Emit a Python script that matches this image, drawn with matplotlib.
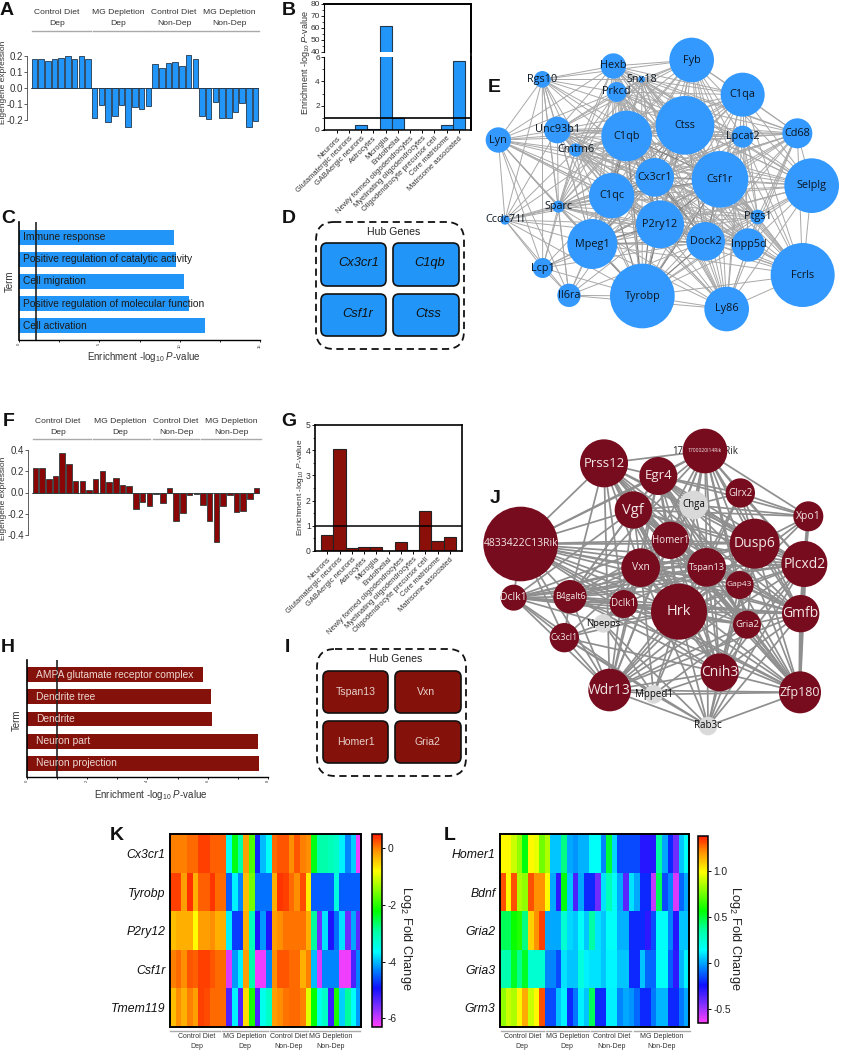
import itertools
import numpy as np
import matplotlib
matplotlib.use("Agg")
import matplotlib.pyplot as plt
from matplotlib.colors import LinearSegmentedColormap
from matplotlib.patches import Circle, FancyBboxPatch

plt.rcParams['font.family'] = ['Liberation Sans', 'DejaVu Sans']
plt.rcParams['mathtext.fontset'] = 'custom'
plt.rcParams['mathtext.rm'] = 'Liberation Sans'
plt.rcParams['mathtext.it'] = 'Liberation Sans:italic'
plt.rcParams['mathtext.bf'] = 'Liberation Sans:bold'
plt.rcParams['axes.linewidth'] = 0.8

W, H = 841, 1050
BLUE = '#2196f8'
RED = '#8a0f08'
TXT = '#333333'
ENRICH = r'Enrichment -log$_{10}$ $P$-value'

# eigengene bars
a_vals = [.18, .178, .168, .178, .19, .203, .18, .203, .18,
          -.19, -.11, -.215, -.175, -.11, -.25, -.12, -.135, -.115,
          .15, .125, .153, .16, .14, .205, .183,
          -.18, -.195, -.09, -.19, -.19, -.155, -.095, -.245, -.21]
f_vals = [.235, .23, .13, .16, .37, .265, .11, .105, .02,
          .13, .2, .095, .135, .07, .06, -.155, -.09, -.13,
          -.01, -.1, .04, -.265, -.19, -.025, -.01,
          -.12, -.27, -.465, -.125, -.025, -.185, -.175, -.065, .045]

# cell type enrichment
cell_types = ['Neurons', 'Glutamatergic neurons', 'GABAergic neurons', 'Astrocytes', 'Microglia',
              'Endothelial', 'Newly formed oligodendrocytes', 'Myelinating oligodendrocytes',
              'Oligodendrocyte precursor cell', 'Core matrisome', 'Matrisome associated']
b_vals = [0, 0, .4, .05, 62, .95, 0, 0, 0, .4, 5.7]
g_vals = [.62, 4.05, .1, .17, .16, 0, .35, .05, 1.6, .4, .57]

# GO terms
c_terms = ['Immune response', 'Positive regulation of catalytic activity', 'Cell migration',
           'Positive regulation of molecular function', 'Cell activation']
c_vals = [9.65, 9.8, 10.3, 10.55, 11.6]
h_terms = ['AMPA glutamate receptor complex', 'Dendrite tree', 'Dendrite', 'Neuron part', 'Neuron projection']
h_vals = [5.83, 6.12, 6.13, 7.67, 7.7]

d_hubs = ['Cx3cr1', 'C1qb', 'Csf1r', 'Ctss']
i_hubs = ['Tspan13', 'Vxn', 'Homer1', 'Gria2']

# network E, layout in crop units
e_genes = ['Fyb', 'C1qa', 'Ctss', 'Hexb', 'Snx18', 'Prkcd', 'Rgs10', 'Lyn', 'Unc93b1', 'Cmtm6', 'C1qb',
           'Lpcat2', 'Cd68', 'Cx3cr1', 'Csf1r', 'Selplg', 'C1qc', 'Sparc', 'Ccdc71l', 'P2ry12', 'Ptgs1',
           'Mpeg1', 'Dock2', 'Inpp5d', 'Lcp1', 'Il6ra', 'Tyrobp', 'Ly86', 'Fcrls']
e_x = [665, 818, 645, 430, 515, 440, 217, 85, 262, 317, 470, 818, 982, 554, 750, 1025, 425, 265, 105, 570,
       863, 367, 707, 835, 218, 297, 517, 770, 998]
e_y = [180, 284, 376, 198, 238, 276, 238, 420, 390, 450, 408, 410, 400, 532, 538, 557, 587, 620, 660, 673,
       651, 732, 724, 735, 804, 886, 888, 927, 825]
e_r = [67, 66, 88, 38, 10, 30, 25, 38, 40, 20, 76, 33, 45, 58, 85, 82, 68, 18, 14, 72, 22, 75, 58, 50, 30,
       35, 97, 67, 96]
e_outer = {
    'Rgs10': ['Lyn', 'Hexb', 'Prkcd', 'Snx18', 'Unc93b1', 'C1qb', 'Ctss', 'Cx3cr1', 'Csf1r', 'Sparc', 'Ccdc71l',
              'Lcp1', 'Cmtm6', 'C1qc', 'Mpeg1', 'Fyb', 'Il6ra'],
    'Lyn': ['Unc93b1', 'Hexb', 'Prkcd', 'Ccdc71l', 'Sparc', 'C1qb', 'C1qc', 'Cmtm6', 'Cx3cr1', 'Csf1r', 'Lcp1',
            'Il6ra', 'P2ry12', 'Mpeg1', 'Tyrobp', 'Dock2', 'Ctss', 'Inpp5d'],
    'Ccdc71l': ['Unc93b1', 'Cmtm6', 'Sparc', 'C1qc', 'C1qb', 'Cx3cr1', 'P2ry12', 'Mpeg1', 'Lcp1', 'Il6ra', 'Csf1r',
                'Tyrobp', 'Dock2'],
    'Lcp1': ['Il6ra', 'Mpeg1', 'Tyrobp', 'P2ry12', 'C1qc', 'Sparc', 'Cmtm6', 'Dock2', 'Csf1r'],
    'Il6ra': ['Mpeg1', 'Tyrobp', 'Sparc', 'C1qc', 'P2ry12', 'Ly86', 'Dock2', 'Cx3cr1'],
}
e_central = ['C1qb', 'Ctss', 'Csf1r', 'Cx3cr1', 'P2ry12', 'C1qc', 'Dock2', 'Tyrobp', 'Mpeg1']

# network J
j_genes = ['Prss12', 'Egr4', '1700020I14Rik', 'Glrx2', 'Chga', 'Vgf', 'Xpo1', '4833422C13Rik', 'Homer1', 'Dusp6',
           'Plcxd2', 'Vxn', 'Tspan13', 'Gap43', 'Dclk1', 'B4galt6', 'Dclk1_2', 'Hrk', 'Gmfb', 'Gria2', 'Npepps',
           'Cx3cl1', 'Cnih3', 'Wdr13', 'Mpped1', 'Zfp180', 'Rab3c']
j_x = [402, 565, 705, 811, 671, 490, 1015, 152, 601, 854, 1003, 512, 710, 809, 131, 300, 461, 627, 992, 831, 400,
       283, 749, 419, 551, 990, 714]
j_y = [190, 228, 153, 279, 315, 330, 349, 432, 421, 431, 492, 503, 502, 555, 593, 590, 612, 635, 641, 674, 670,
       713, 817, 870, 883, 877, 978]
j_r = [72, 57, 67, 44, 43, 56, 45, 112, 56, 75, 69, 58, 58, 42, 39, 50, 42, 84, 56, 42, 28, 44, 57, 64, 28, 63, 28]
j_fs = [9.5, 9.5, 3.6, 7, 7, 10.5, 7.5, 7.5, 7, 10, 10, 7.5, 6.6, 6, 7.5, 6.3, 7, 10.5, 10, 6.8, 6.8, 6.5, 10, 10,
        7, 9, 7]
j_grey = ['Chga', 'Npepps', 'Mpped1', 'Rab3c']
j_core = ['4833422C13Rik', 'Prss12', 'Egr4', '1700020I14Rik', 'Vgf', 'Homer1', 'Dusp6', 'Plcxd2', 'Vxn', 'Tspan13',
          'Hrk', 'Gmfb', 'Cnih3', 'Wdr13', 'Zfp180', 'Gria2', 'B4galt6', 'Gap43']
j_outer = {
    'Dclk1': ['4833422C13Rik', 'B4galt6', 'Cx3cl1', 'Npepps', 'Hrk', 'Vxn', 'Homer1', 'Wdr13', 'Dclk1_2', 'Gria2',
              'Gmfb', 'Dusp6', 'Plcxd2', 'Tspan13', 'Mpped1', 'Vgf'],
    'Cx3cl1': ['B4galt6', 'Npepps', 'Wdr13', 'Mpped1', 'Hrk', 'Rab3c', 'Vxn', 'Cnih3', '4833422C13Rik'],
    'Npepps': ['Dclk1_2', 'Hrk', 'Mpped1', 'Rab3c', 'Vxn', 'Homer1'],
    'Mpped1': ['Wdr13', 'Rab3c', 'Zfp180', 'Hrk', 'Cnih3', 'Vxn', 'Gria2', 'Tspan13'],
    'Rab3c': ['Zfp180', 'Wdr13', 'Cnih3', 'Hrk', 'Gmfb', 'Gria2', 'Plcxd2', 'Tspan13', 'Dusp6', 'Vxn'],
    'Chga': ['Egr4', 'Vgf', 'Glrx2', 'Dusp6', 'Tspan13', 'Homer1', '1700020I14Rik', 'Plcxd2', 'Xpo1'],
    'Glrx2': ['1700020I14Rik', 'Xpo1', 'Dusp6', 'Plcxd2', 'Egr4', 'Gmfb', 'Hrk', 'Tspan13'],
    'Xpo1': ['1700020I14Rik', 'Plcxd2', 'Dusp6', 'Gmfb', 'Hrk', 'Gap43', 'Vgf', 'Egr4', 'Zfp180'],
    'Dclk1_2': ['B4galt6', 'Hrk', 'Homer1', 'Vxn', '4833422C13Rik', 'Prss12', 'Tspan13', 'Gmfb', 'Zfp180'],
}
j_thick = [('Gmfb', 'Zfp180'), ('Plcxd2', 'Gmfb'), ('Xpo1', 'Plcxd2')]

# heatmaps
k_genes = ['Cx3cr1', 'Tyrobp', 'P2ry12', 'Csf1r', 'Tmem119']
k_cx3cr1 = [0, 0, 0, .1, .1, .3, .3, .15, .15, .15,
            -3.6, -2.3, -3, -.2, -1.8, -4.8, -4, -3.6,
            .1, .2, .2, -.1, .2, 0, -.1,
            -2.3, -3, -3, -3.1, -3.2, -3.7, -4.3, -3.9, -6.2]
k_tyrobp = [.3, .3, -.2, .4, -.3, .15, .15, .35, .1, .1,
            -4.5, -3.7, -4.3, -.4, -1.6, -4.4, -4.4, -4.4,
            -.3, .35, .3, .1, -.1, .25, -.7,
            -4.5, -4.5, -4.5, -4.5, -3.4, -4.5, -4.5, -4.5, -4.5]
k_p2ry12 = [-.4, -.3, -.3, -.3, -.8, -.2, -.2, -.1, -.3, -.3,
            -3.7, -4.7, -4.7, -.3, -3.1, -5, -4.2, -5,
            -.2, -.1, .05, .05, .05, .05, -.3,
            -2.9, -5.5, -3.8, -5, -4.4, -3.8, -5.5, -4.1, -5.4]
k_csf1r = [0, .1, -.1, .2, .15, .3, .3, .2, .1, .1,
           -6.1, -4.2, -3.7, -.2, -3, -6.2, -6.2, -4.3,
           -.1, .2, .2, .1, .1, -.3, 0,
           -4, -6.1, -4.3, -4.3, -4.3, -6.2, -6.2, -5.3, -4.3]
k_tmem119 = [-.4, -.1, -.3, 0, -.2, .3, .25, .1, .1, .1,
             -5.3, -3.7, -5.3, -.6, -2.1, -5.3, -3.5, -3.2,
             -.2, -.1, .05, .1, .1, 0, -1,
             -2.2, -3.5, -3.2, -5.2, -2.1, -3.9, -2.9, -3.6, -4.2]
l_genes = ['Homer1', 'Bdnf', 'Gria2', 'Gria3', 'Grm3']
l_homer1 = [1, 1, .9, .8, .55, 1, .95, .75, .85,
            .05, .05, .4, 0, -.03, .02, .02,
            .15, .15, -.05, .5, .08, -.15, -.15, -.15, -.15,
            -.28, -.28, -.28, .35, 0, -.2, -.42, .05, .15]
l_bdnf = [1.3, 1, 1.3, .85, .8, 1.3, 1.2, 1.2, 1,
          0, -.3, .55, .05, -.35, 0, -.2,
          -.2, -.42, .1, .3, .15, 0, -.38, .1, 0,
          -.2, -.2, -.55, .45, -.15, -.05, -.58, -.1, 0]
l_gria2 = [.45, .45, .58, .62, .4, 1.08, 1.2, 1.32, 0,
           0, 0, .25, .08, .05, .15, .05,
           .35, .1, .05, .15, .15, .02, .02, -.2, -.2,
           -.2, -.3, -.15, .15, .15, -.05, -.28, .05, .05]
l_gria3 = [.33, .33, .52, .38, .52, .25, .25, .25, -.05,
           -.05, -.15, .1, .05, .05, .22, .12,
           .1, .1, .05, .13, .13, .05, .05, -.2, -.2,
           .05, -.1, -.1, .15, .15, -.12, -.3, .03, .12]
l_grm3 = [.8, .9, .85, 1, 1.15, .9, 1, 1.3, -.15,
          -.15, .05, .12, -.2, -.08, .12, .05,
          .45, -.2, -.2, .12, .12, -.05, 0, -.03, -.1,
          -.2, -.2, -.08, .03, .03, -.2, -.2, -.08, 0]

rainbow = LinearSegmentedColormap.from_list('prism_rainbow', [
    (0, '#ff40ff'), (.1, '#8030ff'), (.2, '#1010ff'), (.29, '#0080ff'), (.39, '#00ffff'), (.5, '#00ffa0'),
    (.6, '#00ff00'), (.73, '#a0ff00'), (.81, '#ffff00'), (.92, '#ff8c00'), (1, '#ff2000')])

fig = plt.figure(figsize=(W / 100, H / 100), dpi=100)


def ax_px(x0, y0, x1, y1, **kw):
    return fig.add_axes([x0 / W, 1 - y1 / H, (x1 - x0) / W, (y1 - y0) / H], **kw)


over = ax_px(0, 0, W, H, zorder=20)
over.set_xlim(0, W)
over.set_ylim(H, 0)
over.axis('off')
over.patch.set_alpha(0)


def group_header(centers, y_text, y_line, segments, size, gap):
    names = ['Control Diet\nDep', 'MG Depletion\nDep', 'Control Diet\nNon-Dep', 'MG Depletion\nNon-Dep']
    for name, cx, seg in zip(names, centers, segments):
        line1, line2 = name.split('\n')
        over.text(cx, y_text, line1, ha='center', va='center', fontsize=size, color=TXT)
        over.text(cx, y_text + gap, line2, ha='center', va='center', fontsize=size, color=TXT)
        over.plot(seg, [y_line, y_line], color='#aaaaaa', lw=1)


def eigen_panel(vals, box, ylim, ticks, color, edge, ylab_y):
    ax = ax_px(*box)
    step = (box[2] - box[0] - 4) / len(vals)
    ax.set_xlim(-.5 - 4 / step, len(vals) - .5)
    ax.set_ylim(*ylim)
    ax.bar(range(len(vals)), vals, width=.82, color=color, edgecolor=edge, lw=.6, clip_on=False)
    ax.axhline(0, color=edge, lw=.6, xmin=4 / (box[2] - box[0]))
    for s in ['top', 'right', 'bottom']:
        ax.spines[s].set_visible(False)
    ax.spines['left'].set_linewidth(.6)
    ax.spines['left'].set_color('#444444')
    ax.patch.set_alpha(0)
    ax.set_xticks([])
    ax.set_yticks(ticks)
    ax.set_yticklabels([f'{t:.1f}' for t in ticks])
    ax.tick_params(axis='y', labelsize=7, length=2, width=.6, pad=1, labelcolor=TXT, color='#444444')
    over.text(3.5, ylab_y, 'Eigengene expression', rotation=90, ha='center', va='center', fontsize=6, color=TXT)
    return ax


eigen_panel(a_vals, (27, 56, 259, 119.5), (-.2, .2), [.2, .1, 0, -.1, -.2], BLUE, '#22384e', 82)
group_header([57, 118, 174, 229], 13, 30.7, [(32, 91), (93, 150), (151, 198), (199, 259)], 6.1, 10.3)
eigen_panel(f_vals, (28, 450, 260, 535), (-.4, .4), [.4, .2, 0, -.2, -.4], '#8a0505', '#2f3c3c', 498)
group_header([58, 120, 176, 231], 421.7, 439, [(33, 91), (93, 150), (153, 199), (201, 261)], 6.1, 10.3)


def celltype_ticks(ax):
    ax.set_xticks(range(len(cell_types)))
    ax.set_xticklabels(cell_types, rotation=45, ha='right', rotation_mode='anchor', fontsize=5.4, color=TXT)
    ax.tick_params(axis='x', length=2, width=.7, pad=1.5)


# B, broken axis
b_bot = ax_px(324, 57, 471, 130)
b_top = ax_px(324, 4, 471, 52)
for ax in (b_bot, b_top):
    ax.bar(range(len(b_vals)), b_vals, width=1, color=BLUE, edgecolor='#22384e', lw=.8)
    ax.set_xlim(-1.05, 11)
    ax.spines['right'].set_linewidth(1.3)
    ax.spines['left'].set_linewidth(.8)
b_bot.set_ylim(0, 6)
b_top.set_ylim(40, 80)
b_bot.spines['top'].set_visible(False)
b_top.spines['bottom'].set_visible(False)
b_top.spines['top'].set_linewidth(1.4)
b_bot.spines['bottom'].set_linewidth(1.1)
b_top.set_xticks([])
b_bot.axhline(1, color='black', lw=1.2, zorder=5)
celltype_ticks(b_bot)
b_bot.set_yticks([0, 2, 4, 6])
b_bot.set_yticks([1, 3, 5], minor=True)
b_top.set_yticks([40, 50, 60, 70, 80])
b_top.set_yticks([45, 55, 65, 75], minor=True)
for ax in (b_bot, b_top):
    ax.tick_params(axis='y', labelsize=6, length=2, width=.6, pad=1, labelcolor=TXT)
    ax.tick_params(axis='y', which='minor', length=1.2, width=.5)
over.plot([471, 471], [4, 130], color='black', lw=1.3)
over.text(306, 62, ENRICH, rotation=90, ha='center', va='center', fontsize=6.5, color=TXT)

# G
g_ax = ax_px(315, 425, 462, 551)
g_ax.bar(range(len(g_vals)), g_vals, width=1, color=RED, edgecolor='#222222', lw=.8)
g_ax.set_xlim(-1, 11)
g_ax.set_ylim(0, 5)
g_ax.axhline(1, color='black', lw=1.1, zorder=5)
celltype_ticks(g_ax)
g_ax.set_yticks(range(6))
g_ax.set_yticks(np.arange(.5, 5, 1), minor=True)
g_ax.tick_params(axis='y', labelsize=6.2, length=2, width=.6, pad=1, labelcolor=TXT)
g_ax.tick_params(axis='y', which='minor', length=1.2, width=.5)
for s in g_ax.spines.values():
    s.set_linewidth(1.2)
over.text(300.7, 487, ENRICH, rotation=90, ha='center', va='center', fontsize=6, color=TXT)


def term_panel(box, terms, vals, xmax, color, txt_color, major, minor, tick_labels, ylim, xline, x_txt):
    ax = ax_px(*box)
    y = range(len(terms))
    ax.barh(y, vals, height=.67, color=color, zorder=2)
    ax.set_xlim(0, xmax)
    ax.set_ylim(*ylim)
    ax.axvline(xline, color='#222222', lw=1.2, zorder=3)
    for s in ['top', 'right']:
        ax.spines[s].set_visible(False)
    ax.spines['left'].set_linewidth(1.2)
    ax.spines['bottom'].set_linewidth(1)
    ax.set_yticks([])
    ax.set_xticks(major)
    ax.set_xticklabels(tick_labels, rotation=90, fontsize=3, color=TXT)
    ax.set_xticks(minor, minor=True)
    ax.tick_params(axis='x', which='both', length=1.5, width=.6, pad=.8)
    for i, term in zip(y, terms):
        ax.text(x_txt, i, term, va='center', ha='left', fontsize=7.35, color=txt_color, zorder=4)
    return ax


term_panel((19, 222, 260, 340), c_terms, c_vals, 15, BLUE, '#1c1c1c', [0, 5, 10, 15], [2.5, 7.5, 12.5],
           ['0', '5', '10', '15'], (4.65, -.695), 1.04, .27)
over.text(9.5, 281, 'Term', rotation=90, ha='center', va='center', fontsize=7, color=TXT)
over.text(144, 357, ENRICH, ha='center', va='center', fontsize=7, color=TXT)
term_panel((26.7, 660, 268, 777), h_terms, h_vals, 8, '#85120a', '#ecd6d2', [0, 2, 4, 6, 8], [1, 3, 5, 7],
           ['0', '2', '4', '6', '8'], (4.62, -.66), 1, .3)
over.text(17, 720, 'Term', rotation=90, ha='center', va='center', fontsize=7, color=TXT)
over.text(151, 795, ENRICH, ha='center', va='center', fontsize=7, color=TXT)


def hub_panel(outer, xs, ys, box_color, names, txt_xy, title_xy, **txt_kw):
    x0, y0, x1, y1 = outer
    over.add_patch(FancyBboxPatch((x0, y0), x1 - x0, y1 - y0, boxstyle='round,pad=0,rounding_size=18', fill=False,
                                  ec='#111111', lw=1.3, ls=(0, (4, 2.5))))
    over.text(*title_xy, 'Hub Genes', ha='center', va='center', fontsize=7.6, color='#222222')
    boxes = [(xs[0], ys[0]), (xs[1], ys[0]), (xs[0], ys[1]), (xs[1], ys[1])]
    for (bx, by), name, (tx, ty) in zip(boxes, names, txt_xy):
        over.add_patch(FancyBboxPatch((bx[0], by[0]), bx[1] - bx[0], by[1] - by[0],
                                      boxstyle='round,pad=0,rounding_size=6', fc=box_color, ec='#111111', lw=1.2))
        over.text(tx, ty, name, ha='center', va='center', **txt_kw)


hub_panel((316, 222, 464, 349), [(321, 386), (393, 459)], [(243, 286), (294, 336)], BLUE, d_hubs,
          [(359, 263), (430, 263), (358, 314), (428, 314)], (394, 232), fontsize=9.3, style='italic', color='#111111')
hub_panel((317, 649, 466, 776), [(323, 388), (395, 461)], [(671, 713), (721, 763)], '#85120a', i_hubs,
          [(356, 692), (426, 692), (356, 742), (427, 742)], (396, 659), fontsize=7.6, color='#e6d0cc')


def network_axes(box, xmax, ymax):
    ax = ax_px(*box)
    ax.set_xlim(0, xmax)
    ax.set_ylim(ymax, 0)
    ax.axis('off')
    ax.patch.set_alpha(0)
    return ax


# E network
net_e = network_axes((470, 0, 841, 380), 1113, 1140)
e_pos = {g: (x, y) for g, x, y in zip(e_genes, e_x, e_y)}
e_core = [g for g in e_genes if g not in e_outer]
e_edges = list(itertools.combinations(e_core, 2))
for g, others in e_outer.items():
    e_edges += [(g, o) for o in others]
for g1, g2 in e_edges:
    dark = g1 in e_central and g2 in e_central
    net_e.plot(*zip(e_pos[g1], e_pos[g2]), color='#858585' if dark else '#a8a8a8', lw=.9 if dark else .7, zorder=1)
for g, x, y, r in zip(e_genes, e_x, e_y, e_r):
    net_e.add_patch(Circle((x, y), r, fc='#3399ff', ec='none', zorder=2))
    net_e.text(x, y, g, ha='center', va='center', fontsize=7.8, family='Open Sans', color='#0a1520', zorder=3)

# J network
net_j = network_axes((470, 400, 841, 770), 1113, 1110)
j_pos = {g: (x, y) for g, x, y in zip(j_genes, j_x, j_y)}
j_edges = list(itertools.combinations(j_core, 2))
for g, others in j_outer.items():
    j_edges += [(g, o) for o in others]
for g1, g2 in j_edges:
    net_j.plot(*zip(j_pos[g1], j_pos[g2]), color='#8f8f8f', lw=1.25, zorder=1)
for g1, g2 in j_thick:
    net_j.plot(*zip(j_pos[g1], j_pos[g2]), color='#8f8f8f', lw=2.4, zorder=1)
rik = j_genes.index('1700020I14Rik')
net_j.text(j_x[rik], j_y[rik] + 3, j_genes[rik], ha='center', va='center', fontsize=6.9, family='Open Sans',
           color='#222222', zorder=1.5)
for g, x, y, r, fs in zip(j_genes, j_x, j_y, j_r, j_fs):
    grey = g in j_grey
    net_j.add_patch(Circle((x, y), r, fc='#d9d9d9' if grey else '#760c1e', ec='none', zorder=2))
    net_j.text(x, y, g.split('_')[0], ha='center', va='center', fontsize=fs, family='Open Sans',
               color='#0a0a0a' if grey else '#f4e6e6', zorder=3)


def heat_panel(box, cbox, rows, genes, vmin, vmax, ticks, tick_labels, lab_x, centers, segments):
    ax = ax_px(*box)
    im = ax.imshow(np.array(rows), aspect='auto', cmap=rainbow, vmin=vmin, vmax=vmax, interpolation='nearest')
    ax.set_xticks([])
    ax.set_yticks(range(len(genes)))
    ax.set_yticklabels(genes, fontsize=8.8, style='italic', color='#111111')
    ax.tick_params(axis='y', length=0, pad=3)
    for s in ax.spines.values():
        s.set_linewidth(1.4)
    cax = ax_px(*cbox)
    cb = fig.colorbar(im, cax=cax)
    cb.set_ticks(ticks)
    cb.set_ticklabels(tick_labels)
    cb.ax.tick_params(labelsize=7.4, length=2, width=.7, pad=2, labelcolor='#222222')
    cb.outline.set_linewidth(1.1)
    over.text(lab_x, 938, r'Log$_2$ Fold Change', rotation=270, ha='center', va='center', fontsize=9.2, color='#222222')
    group_header(centers, 1037, 1030.7, segments, 5, 9)


heat_panel((169.7, 834.3, 361, 1027), (372, 834, 381.7, 1026.7),
           [k_cx3cr1, k_tyrobp, k_p2ry12, k_csf1r, k_tmem119], k_genes, -6.29, .48, [0, -2, -4, -6],
           ['0', '-2', '-4', '-6'], 406, [196.7, 244.7, 289, 331], [(170, 220), (222, 268), (270, 308), (310, 360)])
heat_panel((499.7, 834.3, 689.3, 1027), (698, 836, 707.7, 1023),
           [l_homer1, l_bdnf, l_gria2, l_gria3, l_grm3], l_genes, -.65, 1.375, [1, .5, 0, -.5],
           ['1.0', '0.5', '0', '-0.5'], 735, [522.3, 567.3, 611.3, 662], [(501, 544), (546, 589), (591, 631), (634, 690)])

# panel letters
letters = ['A', 'B', 'C', 'D', 'E', 'F', 'G', 'H', 'I', 'J', 'K', 'L']
letter_x = [0, 282, 1, 282, 488, 3, 281, 1, 285, 490, 110, 444]
letter_y = [15, 15, 223, 223, 92, 426, 426, 652, 652, 503, 840, 840]
for t, x, y in zip(letters, letter_x, letter_y):
    over.text(x, y, t, ha='left', va='baseline', fontsize=14, fontweight='bold', color='#111111')

fig.savefig('out.png', dpi=100)
